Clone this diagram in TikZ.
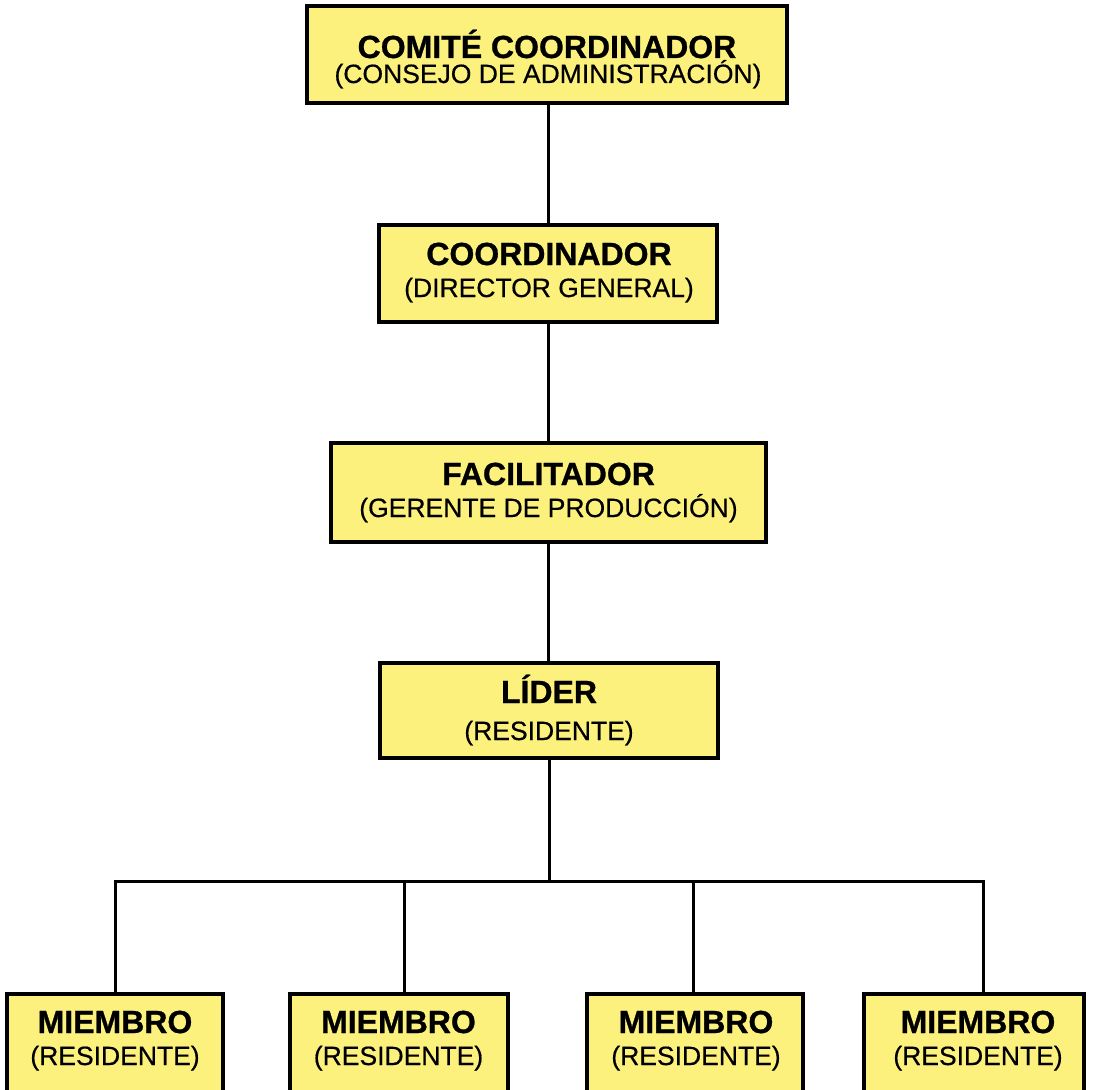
\documentclass[tikz,border=0pt]{standalone}
\usepackage{fontspec}
\setmainfont{Liberation Sans}
\newfontfamily\ttlfont[FakeBold=0.8]{Liberation Sans Bold}
\newfontfamily\subfont[FakeBold=0.5]{Liberation Sans}
\definecolor{boxfill}{RGB}{253,241,125}
\begin{document}
\begin{tikzpicture}[x=1pt,y=-1pt,
  orgbox/.style={draw=black, fill=boxfill, line width=3.8pt, rectangle, inner sep=0pt},
  ttl/.style={anchor=base, inner sep=0pt, font=\ttlfont\fontsize{32}{38}\selectfont},
  sub/.style={anchor=base, inner sep=0pt, font=\subfont\fontsize{26.5}{32}\selectfont},
  link/.style={draw=black, line width=3pt}]
\useasboundingbox[fill=white] (0,0) rectangle (1094,1089);

% upper chain of command
\node[orgbox, minimum width=480pt, minimum height=97pt] (comite) at (547,54.5) {};
\node[orgbox, minimum width=338pt, minimum height=97pt] (coord) at (548,273.5) {};
\node[orgbox, minimum width=435pt, minimum height=99pt] (facil) at (548.5,492.5) {};
\node[orgbox, minimum width=338pt, minimum height=95pt] (lider) at (549,710.5) {};

% member boxes (run past the lower edge)
\node[orgbox, minimum width=216pt, minimum height=100pt] (m1) at (115,1044) {};
\node[orgbox, minimum width=218pt, minimum height=100pt] (m2) at (399,1044) {};
\node[orgbox, minimum width=216pt, minimum height=100pt] (m3) at (695,1044) {};
\node[orgbox, minimum width=220pt, minimum height=100pt] (m4) at (974,1044) {};

% connectors
\draw[link] (comite.south -| 548,0) -- (coord.north -| 548,0);
\draw[link] (coord.south -| 548,0) -- (facil.north -| 548,0);
\draw[link] (facil.south -| 548,0) -- (lider.north -| 548,0);

\coordinate (hub) at (549,881);
\coordinate (b1) at (115,881);
\coordinate (b2) at (404,881);
\coordinate (b3) at (693,881);
\coordinate (b4) at (983,881);
\draw[link] (lider.south -| hub) -- (hub);
\draw[link, line join=miter] (m1.north -| b1) -- (b1) -- (b4) -- (m4.north -| b4);
\draw[link] (b2) -- (m2.north -| b2);
\draw[link] (b3) -- (m3.north -| b3);

% labels
\node[ttl] (comiteA) at (547,58) {COMITÉ COORDINADOR};
\node[sub] (comiteB) at (548,83) {(CONSEJO DE ADMINISTRACIÓN)};
\node[ttl] (coordA) at (549,265) {COORDINADOR};
\node[sub] (coordB) at (549,297) {(DIRECTOR GENERAL)};
\node[ttl] (facilA) at (548.5,485) {FACILITADOR};
\node[sub] (facilB) at (548.5,517) {(GERENTE DE PRODUCCIÓN)};
\node[ttl] (liderA) at (549,703) {LÍDER};
\node[sub] (liderB) at (549,740) {(RESIDENTE)};

\node[ttl] (m1A) at (115,1033) {MIEMBRO};
\node[sub] (m1B) at (115,1065) {(RESIDENTE)};
\node[ttl] (m2A) at (398.5,1033) {MIEMBRO};
\node[sub] (m2B) at (398.5,1065) {(RESIDENTE)};
\node[ttl] (m3A) at (696,1033) {MIEMBRO};
\node[sub] (m3B) at (696,1065) {(RESIDENTE)};
\node[ttl] (m4A) at (978,1033) {MIEMBRO};
\node[sub] (m4B) at (978,1065) {(RESIDENTE)};
\end{tikzpicture}
\end{document}
